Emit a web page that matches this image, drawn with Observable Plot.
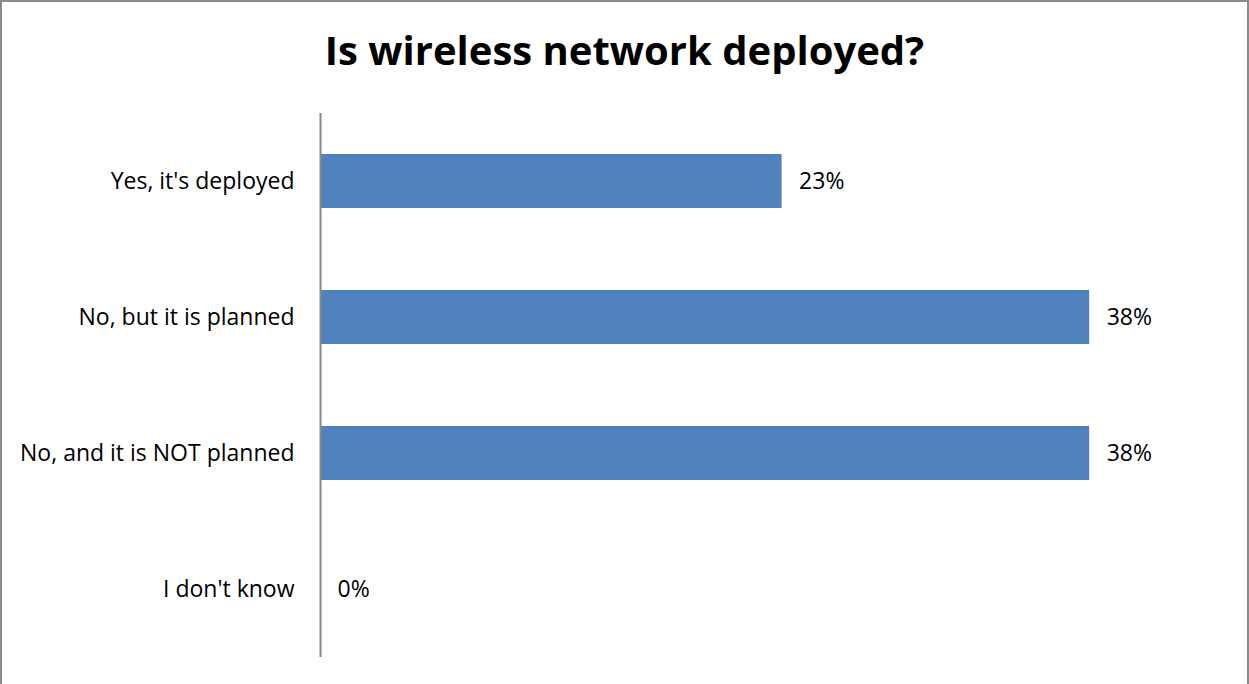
<!DOCTYPE html>
<html>
<head>
<meta charset="utf-8">
<script src="https://cdn.jsdelivr.net/npm/d3@7"></script>
<script src="https://cdn.jsdelivr.net/npm/@observablehq/plot@0.6"></script>
<style>
  html, body { margin: 0; padding: 0; background: #fff; }
  #wrap { position: relative; width: 1249px; height: 684px; overflow: hidden; font-family: "Open Sans", sans-serif; }
  #frame { position: absolute; left: 0; top: 0; width: 1249px; height: 700px; box-sizing: border-box; border: 2px solid #8a8a8a; pointer-events: none; }
  #title { height: 100px; text-align: center; font-weight: bold; font-size: 40px; line-height: 100px; color: #000; }
</style>
</head>
<body>
<div id="wrap">
  <div id="title">Is wireless network deployed?</div>
  <div id="chart"></div>
  <div id="frame"></div>
</div>
<script>
const categories = ["Yes, it's deployed", "No, but it is planned", "No, and it is NOT planned", "I don't know"];
const values = [23.08, 38.46, 38.46, 0];
const valueLabels = ["23%", "38%", "38%", "0%"];

const data = categories.map((c, i) => ({category: c, value: values[i], label: valueLabels[i]}));

const chart = Plot.plot({
  width: 1249,
  height: 584,
  marginTop: 13,
  marginBottom: 27,
  marginLeft: 320,
  marginRight: 129,
  style: {fontFamily: "Open Sans, sans-serif", fontSize: "23px", color: "#000", background: "transparent"},
  x: {domain: [0, 40], axis: null},
  y: {domain: categories, paddingInner: 0.6, paddingOuter: 0.3, label: null, axis: null},
  marks: [
    Plot.barX(data, {x: "value", y: "category", fill: "#4F81BD"}),
    Plot.ruleX([0], {stroke: "#868686", strokeWidth: 2}),
    Plot.text(data, {x: "value", y: "category", text: "label", textAnchor: "start", dx: 17, fontSize: 23, fill: "#000"}),
    Plot.axisY({tickSize: 0, tickPadding: 26, fontSize: 23, label: null, fill: "#000"})
  ]
});
document.getElementById("chart").appendChild(chart);
</script>
</body>
</html>
